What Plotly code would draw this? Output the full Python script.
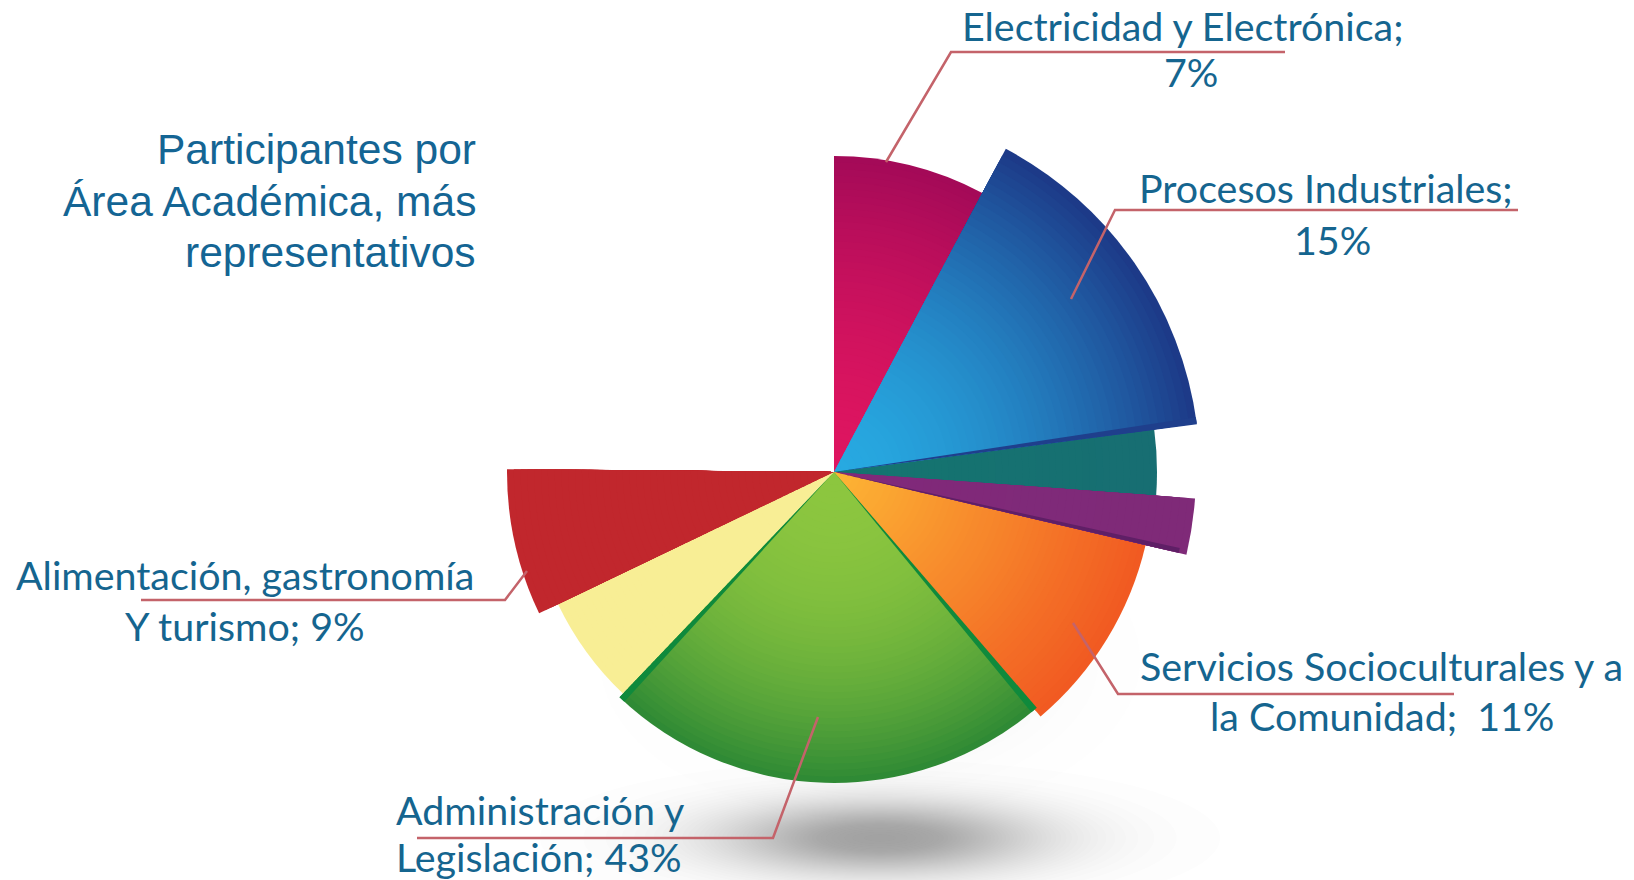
import math
import plotly.graph_objects as go

W, H = 1634, 880
CX, CY, RMAX = 834, 472, 400

# Slices (clockwise degrees from north, radius in px-scale units)
slice_names = ["Electricidad y Electrónica", "Procesos Industriales", "Teal", "Purple",
               "Servicios Socioculturales", "Administración y Legislación", "Yellow", "Alimentación"]
slice_start = [0, 28, 82.4, 94.2, 103, 139.8, 223.6, 244.4]
slice_end = [28, 82.4, 94.2, 103.2, 139.8, 223.6, 244.4, 270.5]
slice_radius = [316, 366, 323, 362, 320, 311, 306, 327]
color_inner = ["#de1560", "#27a9e1", "#14756f", "#80297a", "#fdb735", "#8cc63f", "#f8ee95", "#c1272d"]
color_outer = ["#a40a58", "#1d3a88", "#176e72", "#7f2a78", "#f15a22", "#2f8a35", "#f8ee95", "#c1272d"]
gradient_power = [1.8, 1.7, 1, 1, 1.0, 2.4, 1, 1]

# thin darker side faces
edge_start = [81.4, 102.4, 139.3, 222.4]
edge_end = [82.5, 103.2, 140.6, 223.6]
edge_radius = [366, 354, 311, 311]
edge_color = ["#1f3f8c", "#5f1f66", "#0f8a3c", "#0f8a3c"]

BANDS = 48


def hex_rgb(c):
    return tuple(int(c[i:i + 2], 16) for i in (1, 3, 5))


def mix(a, b, t):
    a, b = hex_rgb(a), hex_rgb(b)
    return "rgb(%d,%d,%d)" % tuple(round(a[i] + (b[i] - a[i]) * t) for i in range(3))


def px(x):
    return x / W


def py(y):
    return 1 - y / H


fig = go.Figure()
widths = [e - s for s, e in zip(slice_start, slice_end)]
centers = [(s + e) / 2 for s, e in zip(slice_start, slice_end)]
for k in range(BANDS):
    f = 1 - k / BANDS
    fig.add_trace(go.Barpolar(
        theta=centers, width=widths,
        r=[r * f for r in slice_radius],
        marker=dict(color=[mix(a, b, f ** p) for a, b, p in zip(color_inner, color_outer, gradient_power)],
                    line=dict(width=0)),
        hoverinfo="skip", showlegend=False))
fig.add_trace(go.Barpolar(
    theta=[(s + e) / 2 for s, e in zip(edge_start, edge_end)],
    width=[e - s for s, e in zip(edge_start, edge_end)],
    r=edge_radius,
    marker=dict(color=edge_color, line=dict(width=0)),
    hoverinfo="skip", showlegend=False))

shapes = []


def soft(cx, cy, rx, ry, color, n, total):
    """Gaussian-looking blur made of stacked translucent ellipses."""
    op = 1 - (1 - total) ** (1 / n)
    for i in range(n):
        u = (i + 0.5) / n
        s = math.sqrt(-math.log(u)) / math.sqrt(-math.log(0.5 / n))
        shapes.append(dict(type="circle", xref="paper", yref="paper", layer="below",
                           x0=px(cx - rx * s), x1=px(cx + rx * s), y0=py(cy + ry * s), y1=py(cy - ry * s),
                           fillcolor=color, opacity=op, line=dict(width=0)))


soft(880, 838, 340, 78, "#303030", 50, 0.48)
soft(870, 660, 270, 160, "#808080", 24, 0.22)
soft(815, 450, 70, 50, "#909090", 16, 0.08)

# leader lines
leaders = [
    [(1285, 52), (951, 52), (886, 162)],
    [(1518, 210), (1115, 210), (1071, 299)],
    [(1454, 694), (1118, 694), (1073, 623)],
    [(417, 838), (773, 838), (818, 717)],
    [(141, 600), (505, 600), (527, 571)],
]
for pts in leaders:
    d = "M " + " L ".join(f"{px(x):.5f} {py(y):.5f}" for x, y in pts)
    shapes.append(dict(type="path", path=d, xref="paper", yref="paper", layer="above",
                       line=dict(color="#c4636a", width=2.5), fillcolor="rgba(0,0,0,0)"))

BLUE = "#15658f"
LABEL = dict(family="Lato, Carlito, sans-serif", size=39.4, color=BLUE)
TITLE = dict(family="Liberation Sans, Arial, sans-serif", size=42.5, color="#146594")

# (text, x, y, anchor)
label_lines = [
    ("Electricidad y Electrónica;", 1182, 25, "center"),
    ("7%", 1191, 72, "center"),
    ("Procesos Industriales;", 1326, 187, "center"),
    ("15%", 1332, 239, "center"),
    ("Servicios Socioculturales y a", 1381, 665, "center"),
    ("la Comunidad;  11%", 1382, 715, "center"),
    ("Administración y", 394, 809, "left"),
    ("Legislación; 43%", 394, 856, "left"),
    ("Alimentación, gastronomía", 245, 574, "center"),
    ("Y turismo; 9%", 245, 625, "center"),
]
title_lines = [
    ("Participantes por", 478, 150),
    ("Área Académica, más", 478, 201),
    ("representativos", 478, 252),
]
annotations = []
for text, x, y, a in label_lines:
    annotations.append(dict(text=text, x=px(x), y=py(y), xref="paper", yref="paper", xanchor=a, yanchor="middle",
                            showarrow=False, font=LABEL))
for text, x, y in title_lines:
    annotations.append(dict(text=text, x=px(x), y=py(y), xref="paper", yref="paper", xanchor="right", yanchor="middle",
                            showarrow=False, font=TITLE))

fig.update_layout(
    width=W, height=H, margin=dict(l=0, r=0, t=0, b=0),
    paper_bgcolor="white", barmode="overlay", showlegend=False,
    polar=dict(
        domain=dict(x=[px(CX - RMAX), px(CX + RMAX)], y=[py(CY + RMAX), py(CY - RMAX)]),
        bgcolor="rgba(0,0,0,0)",
        barmode="overlay",
        angularaxis=dict(visible=False, direction="clockwise", rotation=90),
        radialaxis=dict(visible=False, range=[0, RMAX]),
    ),
    shapes=shapes, annotations=annotations,
)
fig.write_html("out.html", post_script="document.body.style.margin='0';", config=dict(displayModeBar=False))
